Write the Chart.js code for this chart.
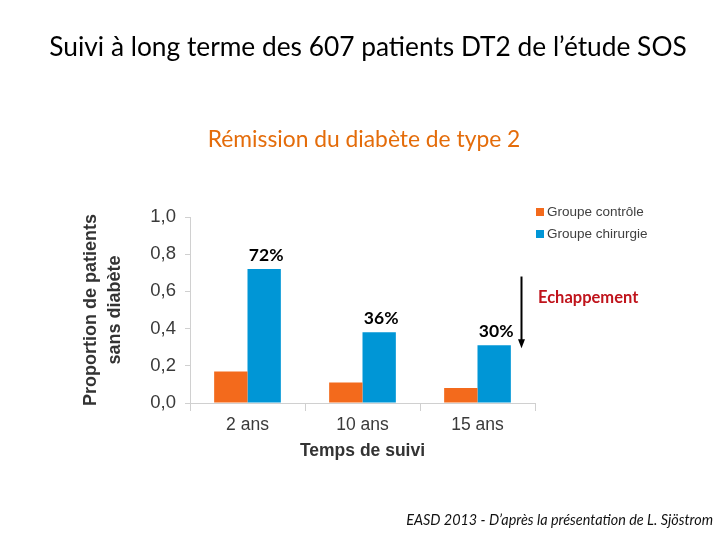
<!DOCTYPE html>
<html>
<head>
<meta charset="utf-8">
<script src="https://cdn.jsdelivr.net/npm/chart.js@4.4.1/dist/chart.umd.min.js"></script>
<style>
  html, body { margin: 0; padding: 0; background: #fff; }
  #c { display: block; }
</style>
</head>
<body>
<canvas id="c" width="720" height="540"></canvas>
<script>
// data
const categories = ['2 ans', '10 ans', '15 ans'];
const controle = [0.17, 0.11, 0.08];
const chirurgie = [0.72, 0.38, 0.31];
const pctLabels = ['72%', '36%', '30%'];
const yTicks = [0, 0.2, 0.4, 0.6, 0.8, 1.0];
// "Echappement" arrow runs from this value down to this value
const arrowFrom = 0.68;
const arrowTo = 0.295;

const ORANGE = '#F36A1C';
const BLUE = '#0096D6';

const slideText = {
    id: 'slideText',
    afterDraw(chart) {
        const ctx = chart.ctx;
        const y = chart.scales.y;
        ctx.save();
        ctx.textBaseline = 'middle';

        // main title
        ctx.fillStyle = '#000';
        ctx.textAlign = 'center';
        ctx.font = '26.3px Lato';
        ctx.fillText('Suivi à long terme des 607 patients DT2 de l\u2019étude SOS', 368, 48);

        // subtitle
        ctx.fillStyle = '#E46C0A';
        ctx.font = '22.8px Lato';
        ctx.fillText('Rémission du diabète de type 2', 364, 140);

        // percent labels above surgery bars
        const blue = chart.getDatasetMeta(1).data;
        ctx.fillStyle = '#000';
        ctx.font = 'bold 17.5px Lato';
        blue.forEach((bar, i) => {
            ctx.fillText(pctLabels[i], bar.x + 2, bar.y - 14);
        });

        // arrow
        const last = blue[blue.length - 1];
        const ax = Math.round(last.x + last.width / 2 + 10) + 0.5;
        const y1 = y.getPixelForValue(arrowFrom);
        const y2 = y.getPixelForValue(arrowTo);
        ctx.strokeStyle = '#000';
        ctx.lineWidth = 2;
        ctx.beginPath();
        ctx.moveTo(ax, y1);
        ctx.lineTo(ax, y2 - 8);
        ctx.stroke();
        ctx.fillStyle = '#000';
        ctx.beginPath();
        ctx.moveTo(ax - 3.5, y2 - 9);
        ctx.lineTo(ax + 3.5, y2 - 9);
        ctx.lineTo(ax, y2);
        ctx.closePath();
        ctx.fill();

        ctx.fillStyle = '#C0141C';
        ctx.textAlign = 'left';
        ctx.font = 'bold 16.5px Lato';
        ctx.fillText('Echappement', 538, 298);

        // legend
        ctx.font = '13.5px "Liberation Sans"';
        chart.data.datasets.forEach((ds, i) => {
            const ly = 212 + i * 22;
            ctx.fillStyle = ds.backgroundColor;
            ctx.fillRect(536, ly - 4, 8, 8);
            ctx.fillStyle = '#404040';
            ctx.fillText(ds.label, 547, ly);
        });

        // source
        ctx.fillStyle = '#111';
        ctx.textAlign = 'right';
        ctx.font = 'italic 14.4px Lato';
        ctx.fillText('EASD 2013 - D\u2019après la présentation de L. Sjöstrom', 713, 520);
        ctx.restore();
    }
};

new Chart(document.getElementById('c'), {
    type: 'bar',
    data: {
        labels: categories,
        datasets: [{
            label: 'Groupe contrôle',
            data: controle,
            backgroundColor: ORANGE,
            borderWidth: 0
        }, {
            label: 'Groupe chirurgie',
            data: chirurgie,
            backgroundColor: BLUE,
            borderWidth: 0
        }]
    },
    options: {
        responsive: false,
        animation: false,
        devicePixelRatio: 1,
        layout: { padding: { left: 79, top: 217, right: 185, bottom: 78 } },
        datasets: { bar: { categoryPercentage: 0.58, barPercentage: 1.0 } },
        plugins: {
            legend: { display: false },
            tooltip: { enabled: false }
        },
        scales: {
            x: {
                afterFit(s) { s.height = 59; },
                grid: { drawOnChartArea: false, tickLength: 8, color: '#d0d0d0' },
                border: { color: '#d0d0d0' },
                ticks: { color: '#3a3a3a', font: { family: 'Liberation Sans', size: 17.5 }, padding: 4 },
                title: {
                    display: true,
                    text: 'Temps de suivi',
                    color: '#333',
                    font: { family: 'Liberation Sans', size: 17.5, weight: 'bold' },
                    padding: 0
                }
            },
            y: {
                min: 0,
                max: 1,
                afterFit(s) { s.width = 111; },
                afterBuildTicks(s) { s.ticks = yTicks.map(v => ({ value: v })); },
                grid: { drawOnChartArea: false, tickLength: 5, color: '#d0d0d0' },
                border: { color: '#d0d0d0' },
                ticks: {
                    color: '#3a3a3a',
                    font: { family: 'Liberation Sans', size: 18.5 },
                    padding: 9,
                    callback: v => v.toFixed(1).replace('.', ',')
                },
                title: {
                    display: true,
                    text: ['Proportion de patients', 'sans diabète'],
                    color: '#333',
                    font: { family: 'Liberation Sans', size: 18, weight: 'bold', lineHeight: 1.35 },
                    padding: 0
                }
            }
        }
    },
    plugins: [slideText]
});
</script>
</body>
</html>
